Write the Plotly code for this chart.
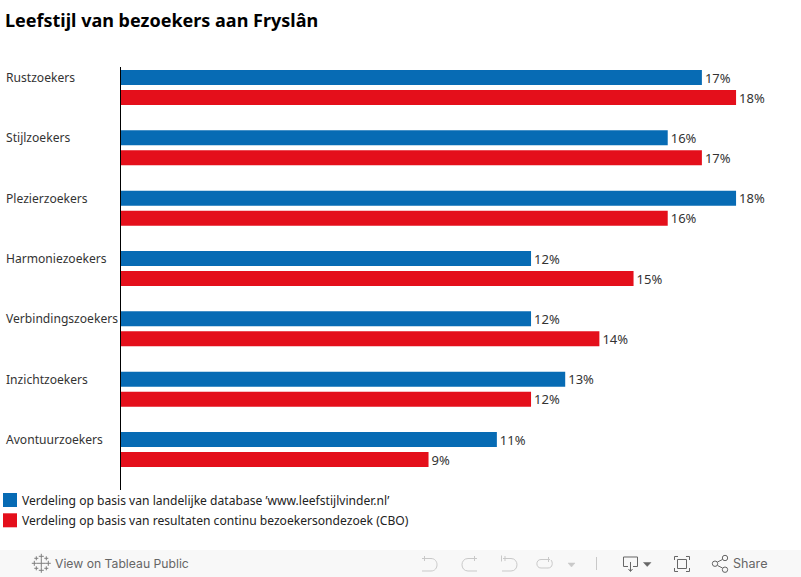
import plotly.graph_objects as go

TITLE = "Leefstijl van bezoekers aan Fryslân"
categories = ["Rustzoekers", "Stijlzoekers", "Plezierzoekers", "Harmoniezoekers",
              "Verbindingszoekers", "Inzichtzoekers", "Avontuurzoekers"]
series_a_name = "Verdeling op basis van landelijke database ’www.leefstijlvinder.nl’"
series_b_name = "Verdeling op basis van resultaten continu bezoekersondezoek (CBO)"
series_a = [17, 16, 18, 12, 12, 13, 11]
series_b = [18, 17, 16, 15, 14, 12, 9]
BLUE = "#076BB4"
RED = "#E40F1B"
FONT = "Noto Sans"
W, H = 801, 577
L, T, R_EDGE, B_EDGE = 121, 67, 801, 490
PX_PER_PCT = 34.17


def fx(x):
    return (x - L) / (R_EDGE - L)


def fy(y):
    return (B_EDGE - y) / (B_EDGE - T)


def pth(d):
    out = []
    for tok in d.split():
        if "," in tok:
            a, b = tok.split(",")
            out.append(f"{fx(float(a)):.5f},{fy(float(b)):.5f}")
        else:
            out.append(tok)
    return " ".join(out)


fig = go.Figure()
for name, vals, col in [(series_a_name, series_a, BLUE), (series_b_name, series_b, RED)]:
    fig.add_bar(y=categories, x=vals, orientation="h", name=name, marker=dict(color=col, line_width=0),
                text=[f"{v}%" for v in vals], textposition="outside", cliponaxis=False, constraintext="none",
                textfont=dict(family=FONT, size=13, color="#333333"), hoverinfo="x+y")

shapes = []
ann = []
step = 60.33


def icon(d, color, width=1.0, fill=None):
    s = dict(type="path", xref="paper", yref="paper", path=pth(d), line=dict(color=color, width=width))
    if fill:
        s["fillcolor"] = fill
    shapes.append(s)


# toolbar
shapes.append(dict(type="rect", xref="paper", yref="paper", x0=fx(0), x1=fx(801), y0=fy(550), y1=fy(577),
                   fillcolor="#F8F8F8", line_width=0, layer="below"))
# legend
for i, (name, col, fs) in enumerate([(series_a_name, BLUE, 12.1), (series_b_name, RED, 12.1)]):
    y0 = 493 + 20.3 * i
    shapes.append(dict(type="rect", xref="paper", yref="paper", x0=fx(3), x1=fx(17), y0=fy(y0), y1=fy(y0 + 14),
                       fillcolor=col, line_width=0))
    ann.append(dict(text=name, xref="paper", yref="paper", x=fx(20), y=fy(y0 + 7), xanchor="left", yanchor="middle",
                    showarrow=False, font=dict(family=FONT, size=fs, color="#222222")))
# category labels
for c in categories:
    ann.append(dict(text=c, xref="paper", yref="y", x=fx(4), y=c, yshift=10, xanchor="left", yanchor="middle",
                    showarrow=False, font=dict(family=FONT, size=12.1, color="#333333")))
# title
ann.append(dict(text=f"<b>{TITLE}</b>", xref="paper", yref="paper", x=fx(3), y=fy(20), xanchor="left", yanchor="middle",
                showarrow=False, font=dict(family=FONT, size=18, color="#000000")))
# toolbar text
ann.append(dict(text="View on Tableau Public", xref="paper", yref="paper", x=fx(53), y=fy(563.5), xanchor="left",
                yanchor="middle", showarrow=False, font=dict(family="Inter", size=12.2, color="#666666")))
ann.append(dict(text="Share", xref="paper", yref="paper", x=fx(731), y=fy(563.5), xanchor="left",
                yanchor="middle", showarrow=False, font=dict(family="Inter", size=12.6, color="#666666")))

# toolbar icons
LIGHT = "#C9C9C9"
DARK = "#666666"
# Tableau logo
cx, cy = 41.3, 563.3
for dx, dy, a in [(0, 0, 4.5), (0, -7, 2.5), (0, 7, 2.5), (-7, 0, 2.5), (7, 0, 2.5),
                  (-5, -5, 2), (5, -5, 2), (-5, 5, 2), (5, 5, 2)]:
    x, y = cx + dx, cy + dy
    icon(f"M {x-a},{y} L {x+a},{y} M {x},{y-a} L {x},{y+a}", "#7F7F7F", 1.0)
# undo
icon("M 422,558.5 L 431,558.5 C 439,558.5 439,571 431,571 L 422,571 M 424.5,556 L 424.5,561", LIGHT)
# redo
icon("M 477,558.5 L 468,558.5 C 460,558.5 460,571 468,571 L 477,571 M 474.5,556 L 474.5,561", LIGHT)
# revert
icon("M 501.5,555.5 L 501.5,561.5 M 505,556 L 505,561 M 503,558.5 L 511,558.5 C 519,558.5 519,571 511,571 L 502,571", LIGHT)
# refresh
icon("M 550,559.5 L 541,559.5 C 535.5,559.5 535.5,568 541,568 L 548,568 C 553,568 553,562 551,560 M 548.5,557 L 548.5,562", LIGHT)
# dropdown triangles
icon("M 568,563 L 575,563 L 571.5,567 Z", LIGHT, 0.5, LIGHT)
icon("M 643.5,562.5 L 651,562.5 L 647.2,566.5 Z", DARK, 0.5, DARK)
# separator
icon("M 596.5,557 L 596.5,570", LIGHT)
# download
icon("M 628,566.5 L 623.5,566.5 L 623.5,557 L 637.5,557 L 637.5,566.5 L 633,566.5 M 630.5,562 L 630.5,571 M 628.5,569 L 630.5,571.5 L 632.5,569", DARK)
# fullscreen
icon("M 674.5,560 L 674.5,556.5 L 678,556.5 M 686,556.5 L 689.5,556.5 L 689.5,560 "
     "M 689.5,568 L 689.5,571.5 L 686,571.5 M 678,571.5 L 674.5,571.5 L 674.5,568", DARK)
icon("M 677.5,559.5 L 686.5,559.5 L 686.5,568.5 L 677.5,568.5 Z", DARK)
# share
icon("M 717.5,562 L 722.5,559.5 M 717.5,565.5 L 722.5,568", DARK)
for ccx, ccy in [(715, 563.7), (725, 558), (725, 569.7)]:
    r = 2.7
    shapes.append(dict(type="circle", xref="paper", yref="paper", x0=fx(ccx - r), x1=fx(ccx + r),
                       y0=fy(ccy + r), y1=fy(ccy - r), line=dict(color=DARK, width=1)))

fig.update_layout(
    width=W, height=H, margin=dict(l=L, t=T, r=W - R_EDGE, b=H - B_EDGE, pad=0),
    paper_bgcolor="#FFFFFF", plot_bgcolor="#FFFFFF", showlegend=False,
    barmode="group", bargap=0.337, bargroupgap=0.25,
    font=dict(family=FONT),
    xaxis=dict(range=[0, (R_EDGE - L) / PX_PER_PCT], visible=False, fixedrange=True),
    yaxis=dict(categoryorder="array", categoryarray=categories,
               range=[6 + (490 - 449.5) / step, -(87.5 - 67) / step], showticklabels=False, ticks="",
               showgrid=False, zeroline=False, showline=True, linecolor="#000000", linewidth=1, fixedrange=True),
    shapes=shapes, annotations=ann,
)
fig.write_html("out.html", config={"displayModeBar": False},
               post_script="document.body.style.margin='0';document.body.style.overflow='hidden';")
